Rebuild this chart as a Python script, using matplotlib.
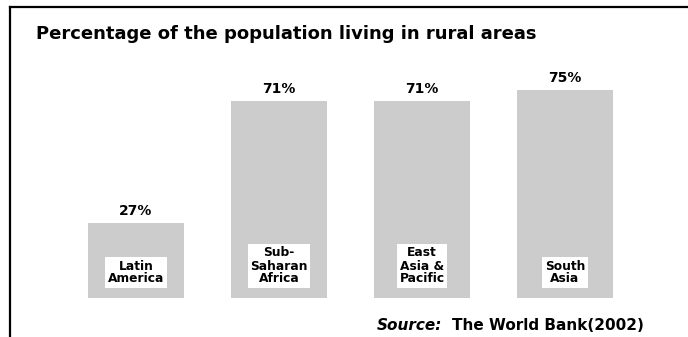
import matplotlib.pyplot as plt
from matplotlib.lines import Line2D

plt.rcParams['font.family'] = ['DejaVu Sans']

regions = ['Latin\nAmerica', 'Sub-\nSaharan\nAfrica', 'East\nAsia &\nPacific', 'South\nAsia']
rural_pct = [27, 71, 71, 75]
pct_labels = ['27%', '71%', '71%', '75%']

W, H = 688, 337
fig = plt.figure(figsize=(W / 100, H / 100), dpi=100)
fig.patch.set_facecolor('white')

# frame: left and top edges only
fig.add_artist(Line2D([10 / W, 10 / W], [0, 1 - 7 / H], transform=fig.transFigure,
                      color='black', lw=1.6))
fig.add_artist(Line2D([10 / W, 1], [1 - 7 / H, 1 - 7 / H], transform=fig.transFigure,
                      color='black', lw=1.6))

fig.text(36 / W, 1 - 34 / H, 'Percentage of the population living in rural areas',
         fontsize=13, fontweight='bold', va='center', ha='left')

# axes: x from 64.5 px to 636.5 px, y zero at 298 px, 100 at 21 px
ax = fig.add_axes([64.5 / W, (H - 298) / H, 572 / W, 277 / H])
ax.set_xlim(-0.5, 3.5)
ax.set_ylim(0, 100)
ax.axis('off')

x = range(len(rural_pct))
ax.bar(x, rural_pct, width=0.67, color='#cccccc')

for i, v in enumerate(rural_pct):
    ax.annotate(pct_labels[i], (i, v), xytext=(0, 4), textcoords='offset points',
                ha='center', va='bottom', fontsize=10, fontweight='bold')
    ax.annotate(regions[i], (i, 0), xytext=(0, 9), textcoords='offset points',
                ha='center', va='bottom', fontsize=8.8, fontweight='bold',
                linespacing=1.0,
                bbox=dict(boxstyle='square,pad=0.2', fc='white', ec='none'))

fig.text(377 / W, 1 - 325 / H, 'Source:', fontsize=11, fontweight='bold',
         style='italic', va='center', ha='left')
fig.text(452 / W, 1 - 325 / H, 'The World Bank(2002)', fontsize=11,
         fontweight='bold', va='center', ha='left')

fig.savefig('out.png', dpi=100)
